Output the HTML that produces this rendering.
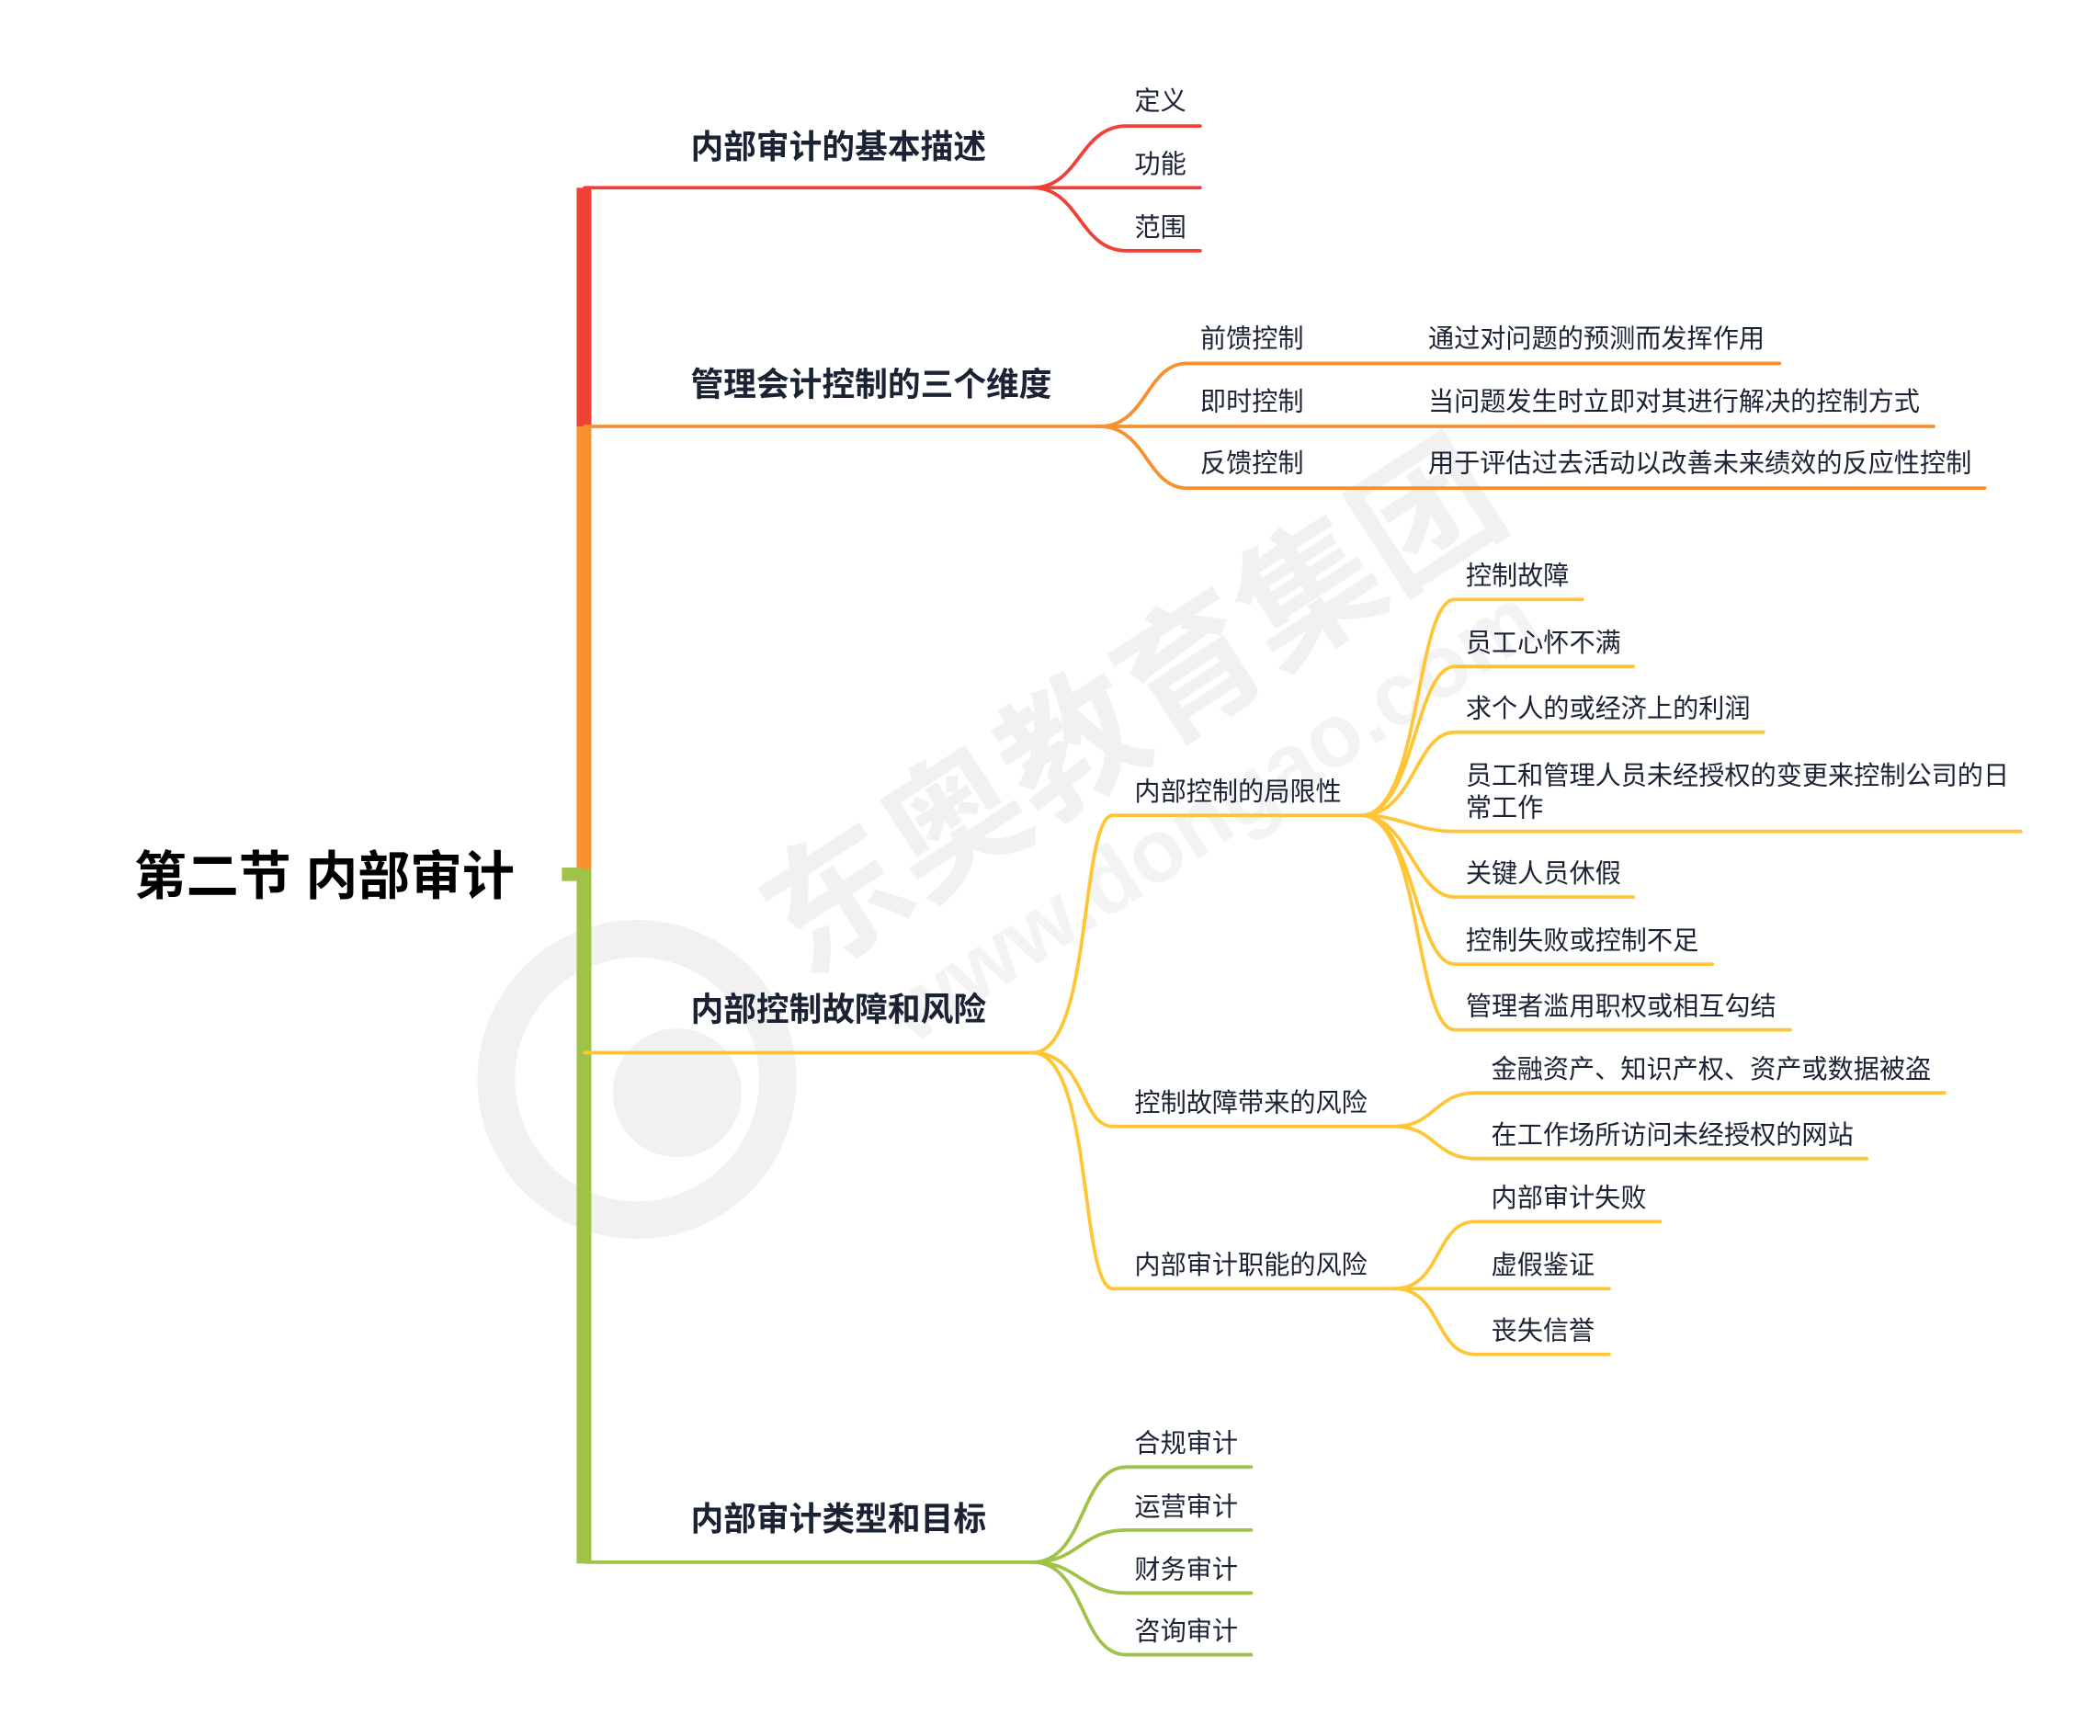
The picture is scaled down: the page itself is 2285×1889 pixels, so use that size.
<!DOCTYPE html>
<html><head><meta charset="utf-8">
<style>
html,body{margin:0;padding:0;background:#fff;}
svg{display:block;}
text{font-family:"Liberation Sans","Noto Sans CJK SC",sans-serif;fill:#1a2233;}
.l1{font-size:24.5px;font-weight:bold;}
.l2{font-size:19.3px;}
</style></head>
<body>
<svg width="2285" height="1889" viewBox="0 0 1566 1294.6" xmlns="http://www.w3.org/2000/svg">
<!-- watermark -->
<g opacity="0.75">
<circle cx="475" cy="805" r="105" fill="none" stroke="#ececec" stroke-width="28"/>
<circle cx="505" cy="815" r="48" fill="#ececec"/>
<g transform="translate(600,730) rotate(-33)">
<text x="0" y="0" style="font-size:105px;font-weight:bold;fill:#ededed">东奥教育集团</text>
<text x="40" y="85" style="font-size:66px;font-weight:bold;fill:#efefef">www.dongao.com</text>
</g>
</g>
<!-- trunk -->
<rect x="430" y="140" width="11" height="178" fill="#EF4136"/>
<rect x="430" y="318" width="11" height="330" fill="#F7902F"/>
<rect x="430" y="648" width="11" height="518" fill="#A1C249"/>
<rect x="419" y="647" width="14" height="10" fill="#A1C249"/>
<text x="100" y="667" style="font-size:39px;font-weight:bold;fill:#000">第二节 内部审计</text>

<g fill="none" stroke-width="2.6" stroke-linecap="round">
<g stroke="#EF4136">
<path d="M436 140 H770"/>
<path d="M770 140 C805 140 805 94 840 94 H895"/>
<path d="M770 140 H895"/>
<path d="M770 140 C805 140 805 187 840 187 H895"/>
</g>
<g stroke="#F7902F">
<path d="M436 318 H820"/>
<path d="M820 318 C855 318 855 271 885 271 H1327"/>
<path d="M820 318 H1442"/>
<path d="M820 318 C855 318 855 364 885 364 H1480"/>
</g>
<g stroke="#FEC636">
<path d="M436 785 H770"/>
<path d="M770 785 C815 785 805 608 830 608 H1015"/>
<path d="M770 785 C810 785 805 840 830 840 H1040"/>
<path d="M770 785 C815 785 805 961 830 961 H1040"/>
<path d="M1015 608 C1060 608 1055 447 1085 447 H1180"/>
<path d="M1015 608 C1055 608 1055 497 1085 497 H1218"/>
<path d="M1015 608 C1055 608 1055 546 1085 546 H1315"/>
<path d="M1015 608 C1045 608 1055 620 1085 620 H1507"/>
<path d="M1015 608 C1050 608 1055 669 1085 669 H1218"/>
<path d="M1015 608 C1055 608 1055 719 1085 719 H1277"/>
<path d="M1015 608 C1060 608 1055 768 1085 768 H1335"/>
<path d="M1040 840 C1070 840 1070 815 1100 815 H1450"/>
<path d="M1040 840 C1070 840 1070 864 1100 864 H1392"/>
<path d="M1040 961 C1075 961 1070 911 1100 911 H1238"/>
<path d="M1040 961 H1200"/>
<path d="M1040 961 C1075 961 1070 1010 1100 1010 H1200"/>
</g>
<g stroke="#A1C249">
<path d="M436 1165 H770"/>
<path d="M770 1165 C810 1165 805 1094 840 1094 H933"/>
<path d="M770 1165 C805 1165 805 1141 840 1141 H933"/>
<path d="M770 1165 C805 1165 805 1188 840 1188 H933"/>
<path d="M770 1165 C810 1165 805 1234 840 1234 H933"/>
</g>
</g>

<text class="l1" x="515" y="118">内部审计的基本描述</text>
<text class="l2" x="846" y="82">定义</text>
<text class="l2" x="846" y="129">功能</text>
<text class="l2" x="846" y="176">范围</text>

<text class="l1" x="515" y="295">管理会计控制的三个维度</text>
<text class="l2" x="895" y="259">前馈控制</text>
<text class="l2" x="895" y="306">即时控制</text>
<text class="l2" x="895" y="352">反馈控制</text>
<text class="l2" x="1065" y="259">通过对问题的预测而发挥作用</text>
<text class="l2" x="1065" y="306">当问题发生时立即对其进行解决的控制方式</text>
<text class="l2" x="1065" y="352">用于评估过去活动以改善未来绩效的反应性控制</text>

<text class="l1" x="515" y="761">内部控制故障和风险</text>
<text class="l2" x="846" y="597">内部控制的局限性</text>
<text class="l2" x="846" y="829">控制故障带来的风险</text>
<text class="l2" x="846" y="950">内部审计职能的风险</text>
<text class="l2" x="1093" y="436">控制故障</text>
<text class="l2" x="1093" y="486">员工心怀不满</text>
<text class="l2" x="1093" y="535">求个人的或经济上的利润</text>
<text class="l2" x="1093" y="585">员工和管理人员未经授权的变更来控制公司的日</text>
<text class="l2" x="1093" y="609">常工作</text>
<text class="l2" x="1093" y="658">关键人员休假</text>
<text class="l2" x="1093" y="708">控制失败或控制不足</text>
<text class="l2" x="1093" y="757">管理者滥用职权或相互勾结</text>
<text class="l2" x="1112" y="804">金融资产、知识产权、资产或数据被盗</text>
<text class="l2" x="1112" y="853">在工作场所访问未经授权的网站</text>
<text class="l2" x="1112" y="900">内部审计失败</text>
<text class="l2" x="1112" y="950">虚假鉴证</text>
<text class="l2" x="1112" y="999">丧失信誉</text>

<text class="l1" x="515" y="1141">内部审计类型和目标</text>
<text class="l2" x="846" y="1083">合规审计</text>
<text class="l2" x="846" y="1130">运营审计</text>
<text class="l2" x="846" y="1177">财务审计</text>
<text class="l2" x="846" y="1223">咨询审计</text>
</svg>
</body></html>
